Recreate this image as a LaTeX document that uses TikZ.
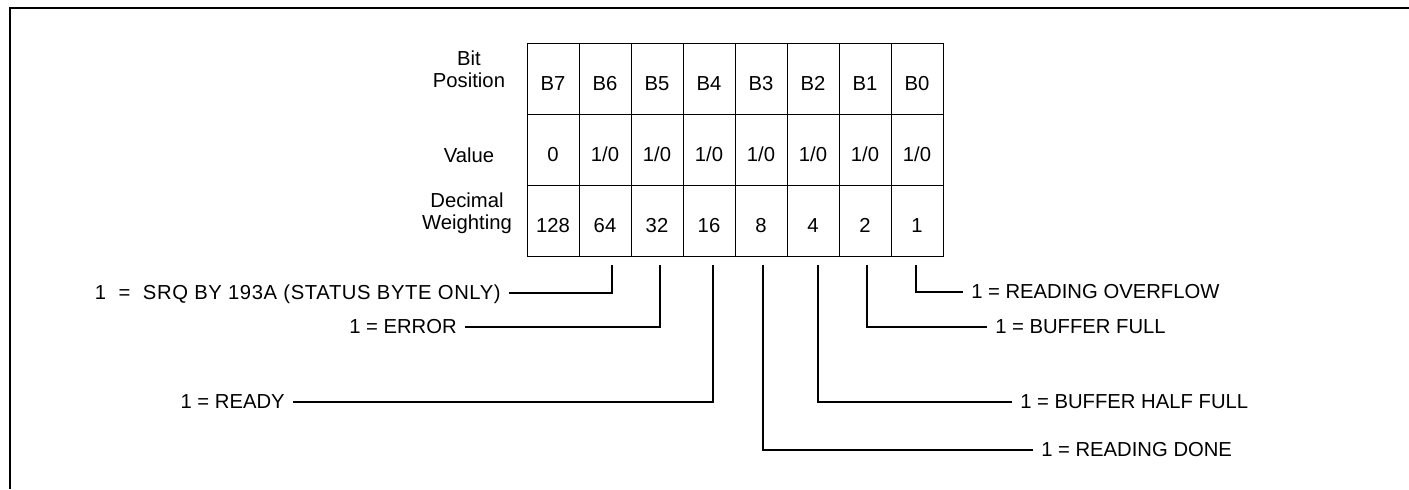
\documentclass[tikz,border=0pt]{standalone}
\usepackage{fontspec}
\setmainfont{Liberation Sans}
\usepackage{tikz}

\begin{document}
\begin{tikzpicture}[x=0.025cm,y=-0.025cm]
                \fontsize{14.4}{15.6}\selectfont
                \tikzstyle{cell}=[draw,line width=0.6pt,minimum width=1.3cm,minimum height=1.775cm,inner sep=0pt,text height=0.6cm,text depth=0pt]
                \tikzstyle{leader}=[line width=1.4pt]
                \tikzstyle{note}=[inner ysep=0pt,inner xsep=0.2cm,text height=0.3cm,text depth=0pt]
                \newcommand\bitcol[5]{\node[cell] at (#2,78.5) (p#1) {#3};%
                \node[cell] at (#2,149.5) (v#1) {#4};%
                \node[cell] at (#2,220.5) (w#1) {#5};}
                \useasboundingbox (0,0) rectangle (1409,489);
                \draw[line width=1pt] (10,489) -- (10,8) -- (1409,8);
                \node[align=center] at (469,69) (bitpos) {Bit\\Position};
                \node at (469,155) (value) {Value};
                \node[align=center] at (467,213) (weight) {Decimal\\Weighting};
                \bitcol{7}{553}{B7}{0}{128};
                \bitcol{6}{605}{B6}{1/0}{64};
                \bitcol{5}{657}{B5}{1/0}{32};
                \bitcol{4}{709}{B4}{1/0}{16};
                \bitcol{3}{761}{B3}{1/0}{8};
                \bitcol{2}{813}{B2}{1/0}{4};
                \bitcol{1}{865}{B1}{1/0}{2};
                \bitcol{0}{917}{B0}{1/0}{1};
                \draw[line width=1.2pt] (p7.north east) -- (w7.south east);
                \node[note,anchor=east] at (509,293) (srq) {\addfontfeature{LetterSpace=3}1 \ = \ SRQ BY 193A (STATUS BYTE ONLY)};
                \node[note,anchor=east] at (465,327) (err) {1 = ERROR};
                \node[note,anchor=east] at (293,402) (rdy) {1 = READY};
                \node[note,anchor=west] at (1033,450) (done) {1 = READING DONE};
                \node[note,anchor=west] at (1012,402) (half) {1 = BUFFER HALF FULL};
                \node[note,anchor=west] at (987,327) (full) {1 = BUFFER FULL};
                \node[note,anchor=west] at (963,292) (ovfl) {1 = READING OVERFLOW};
                \draw[leader] ([shift={(7,9)}]w6.south) |- (srq);
                \draw[leader] ([shift={(3,9)}]w5.south) |- (err);
                \draw[leader] ([shift={(4,9)}]w4.south) |- (rdy);
                \draw[leader] ([shift={(2,9)}]w3.south) |- (done);
                \draw[leader] ([shift={(5,9)}]w2.south) |- (half);
                \draw[leader] ([shift={(2,9)}]w1.south) |- (full);
                \draw[leader] ([shift={(-1,9)}]w0.south) |- (ovfl);
            \end{tikzpicture}
\end{document}
